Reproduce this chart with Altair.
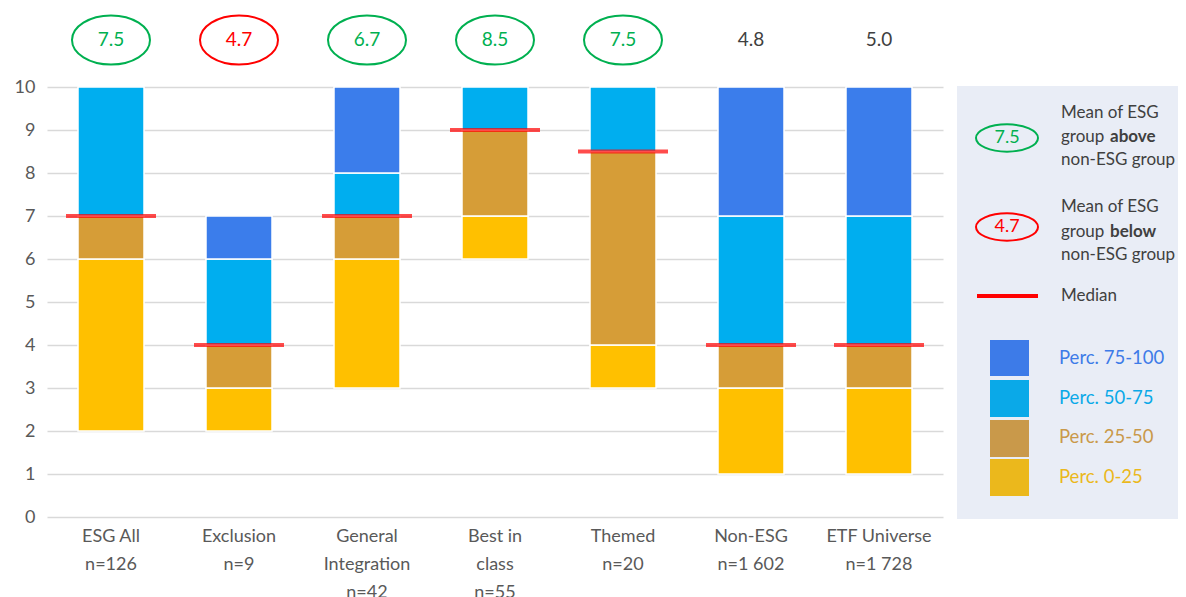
import altair as alt
import pandas as pd

# ---------------- data ----------------
categories = ["ESG All|n=126", "Exclusion|n=9", "General|Integration|n=42",
              "Best in|class|n=55", "Themed|n=20", "Non-ESG|n=1 602",
              "ETF Universe|n=1 728"]
p0 = [2, 2, 3, 6, 3, 1, 1]
p25 = [6, 3, 6, 7, 4, 3, 3]
p50 = [7, 4, 7, 9, 8.5, 4, 4]
p75 = [10, 6, 8, 10, 10, 7, 7]
p100 = [10, 7, 10, 10, 10, 10, 10]
means = [7.5, 4.7, 6.7, 8.5, 7.5, 4.8, 5.0]
mean_status = ["above", "below", "above", "above", "above", "none", "none"]
segment_names = ["Perc. 0-25", "Perc. 25-50", "Perc. 50-75", "Perc. 75-100"]
segment_colors = ["#FFC000", "#D69D37", "#00AEEF", "#3B7DEB"]
legend_colors = ["#EBB81C", "#C9994A", "#0AA9E8", "#3D7BE8"]

FONT = "Lato"
GREY = "#595959"
DARK = "#404040"
GREEN = "#00B050"
RED = "#FF0000"

rows = []
bounds = list(zip(p0, p25, p50, p75, p100))
for cat, b in zip(categories, bounds):
    for i, name in enumerate(segment_names):
        lo, hi = b[i], b[i + 1]
        if hi > lo:
            rows.append({"cat": cat, "lo": lo, "hi": hi, "seg": name})
seg_df = pd.DataFrame(rows)
med_df = pd.DataFrame({"cat": categories, "median": p50})
mean_df = pd.DataFrame({"cat": categories, "mean": means, "status": mean_status})

x_enc = alt.X("cat:N", sort=categories,
              scale=alt.Scale(paddingInner=0, paddingOuter=0),
              axis=alt.Axis(title=None, labelAngle=0, ticks=False, domain=False,
                            labelExpr="split(datum.label, '|')",
                            labelFontSize=18, labelColor=GREY, labelFont=FONT,
                            labelLineHeight=28, labelPadding=10, labelBaseline="top"))
y_scale = alt.Scale(domain=[0, 10], nice=False)

bars = alt.Chart(seg_df).mark_bar(size=66, stroke="white", strokeWidth=1.5).encode(
    x=x_enc,
    y=alt.Y("lo:Q", scale=y_scale,
            axis=alt.Axis(title=None, values=list(range(11)), ticks=False, domain=False,
                          gridColor="#D9D9D9", gridWidth=1.5, labelFontSize=18,
                          labelColor=GREY, labelFont=FONT, labelPadding=12)),
    y2="hi:Q",
    color=alt.Color("seg:N", scale=alt.Scale(domain=segment_names, range=segment_colors),
                    legend=None),
)

medians = alt.Chart(med_df).mark_tick(size=90, thickness=4, color=RED).encode(
    x=alt.X("cat:N", sort=categories), y=alt.Y("median:Q", scale=y_scale))

status_scale = alt.Scale(domain=["above", "below", "none"], range=[GREEN, RED, DARK])
top_ellipse = "M-1,0A1,0.63,0,1,1,1,0A1,0.63,0,1,1,-1,0Z"
ellipses = alt.Chart(mean_df).transform_filter("datum.status != 'none'").mark_point(
    shape=top_ellipse, size=6084, filled=False, strokeWidth=2, opacity=1).encode(
    x=alt.X("cat:N", sort=categories), y=alt.value(-47),
    stroke=alt.Stroke("status:N", scale=status_scale, legend=None))
mean_text = alt.Chart(mean_df).mark_text(fontSize=19, font=FONT, baseline="middle").encode(
    x=alt.X("cat:N", sort=categories), y=alt.value(-47),
    text=alt.Text("mean:Q", format=".1f"),
    fill=alt.Fill("status:N", scale=status_scale, legend=None))

# ---------------- custom legend panel ----------------
one = pd.DataFrame({"k": [0]})
layers = []
layers.append(alt.Chart(one).mark_rect(color="#E9EDF6").encode(
    x=alt.value(910), x2=alt.value(1134), y=alt.value(-1), y2=alt.value(432)))

leg_ellipse = "M-1,0A1,0.44,0,1,1,1,0A1,0.44,0,1,1,-1,0Z"


def txt(s, x, y, color=DARK, size=17, weight="normal", align="left"):
    return alt.Chart(pd.DataFrame({"t": [s]})).mark_text(
        fontSize=size, font=FONT, color=color, fontWeight=weight, align=align,
        baseline="middle").encode(x=alt.value(x), y=alt.value(y), text="t:N")


for ycen, col, val, word, ys in [(51, GREEN, "7.5", "above", (26, 50, 73)),
                                 (140, RED, "4.7", "below", (120, 145, 168))]:
    layers.append(alt.Chart(one).mark_point(shape=leg_ellipse, size=3844, filled=False,
                                            strokeWidth=2, color=col, opacity=1).encode(
        x=alt.value(960), y=alt.value(ycen)))
    layers.append(txt(val, 960, ycen, color=col, size=18, align="center"))
    layers.append(txt("Mean of ESG", 1014, ys[0]))
    layers.append(txt("group", 1014, ys[1]))
    layers.append(txt(word, 1063, ys[1], weight="bold"))
    layers.append(txt("non-ESG group", 1014, ys[2]))

layers.append(alt.Chart(one).mark_rule(color=RED, strokeWidth=4).encode(
    x=alt.value(930), x2=alt.value(991), y=alt.value(209)))
layers.append(txt("Median", 1014, 209))

sw_y = [(372, 409), (333, 370), (293, 330), (253, 289)]
tx_y = [390, 350, 311, 271]
for name, col, (ya, yb), ty in zip(segment_names, legend_colors, sw_y, tx_y):
    layers.append(alt.Chart(one).mark_rect(color=col).encode(
        x=alt.value(943), x2=alt.value(982), y=alt.value(ya), y2=alt.value(yb)))
    layers.append(txt(name, 1012, ty, color=col, size=18.5))

chart = alt.layer(bars, medians, ellipses, mean_text, *layers).resolve_scale(
    color="independent", stroke="independent", fill="independent"
).properties(
    width=896, height=430,
    autosize=alt.AutoSizeParams(type="none"),
    padding={"left": 39, "top": 79, "right": 235, "bottom": 82},
).configure_view(stroke=None)

chart.save("out.html", embed_options={"renderer": "svg", "actions": False})
